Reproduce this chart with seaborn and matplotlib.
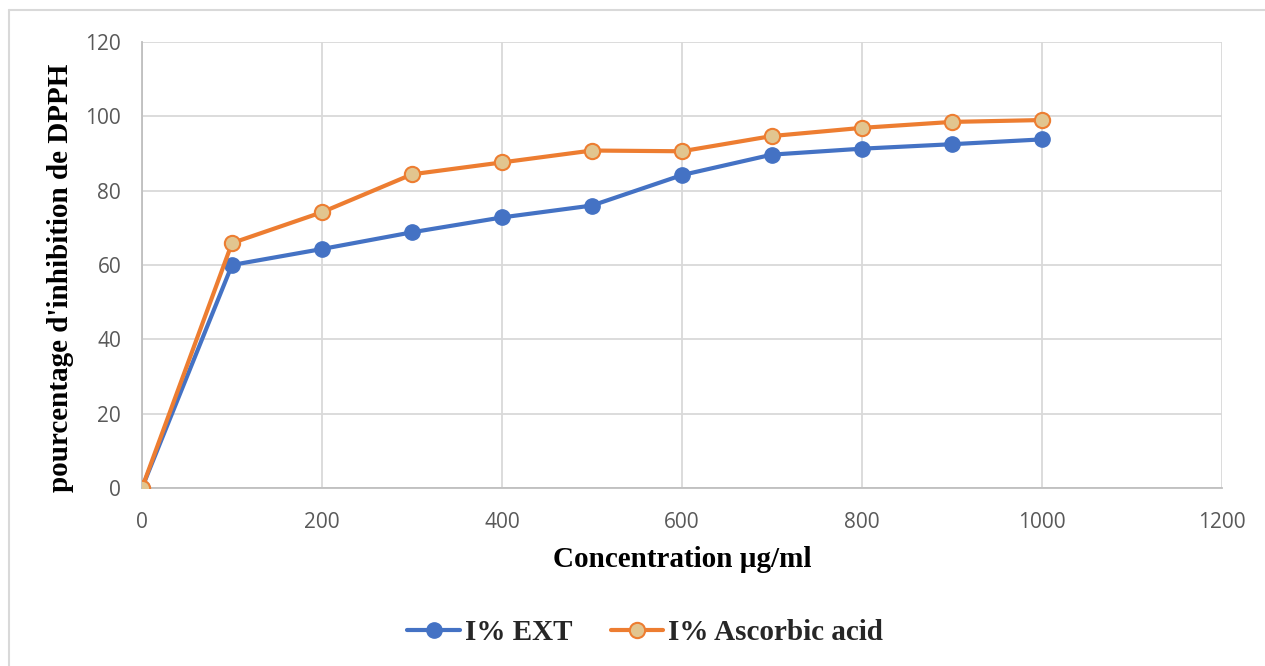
import matplotlib
matplotlib.use("Agg")
import matplotlib.pyplot as plt
import seaborn as sns
import pandas as pd
from matplotlib.lines import Line2D

concentration = [0, 100, 200, 300, 400, 500, 600, 700, 800, 900, 1000]
ext_values = [0, 60.0, 64.3, 68.8, 72.8, 76.0, 84.2, 89.7, 91.3, 92.5, 93.8]
ascorbic_values = [0, 65.9, 74.2, 84.4, 87.6, 90.8, 90.6, 94.7, 96.9, 98.5, 99.0]
series_names = ["I% EXT", "I% Ascorbic acid"]
x_ticks = [0, 200, 400, 600, 800, 1000, 1200]
y_ticks = [0, 20, 40, 60, 80, 100, 120]

df = pd.DataFrame({
    "conc": concentration * 2,
    "val": ext_values + ascorbic_values,
    "series": [series_names[0]] * len(concentration) + [series_names[1]] * len(concentration),
})

sns.set_theme(style="white")
fig = plt.figure(figsize=(12.65, 6.66), dpi=100)
ax = fig.add_axes([142/1265, 1-488/666, (1222-142)/1265, (488-42)/666])

colors = {"I% EXT": "#4472C4", "I% Ascorbic acid": "#ED7D31"}
for name in series_names:
    sub = df[df["series"] == name]
    if name == series_names[0]:
        sns.lineplot(data=sub, x="conc", y="val", ax=ax, color=colors[name], lw=3,
                     marker="o", markersize=11, markerfacecolor=colors[name],
                     markeredgecolor=colors[name], markeredgewidth=1, label=name, zorder=3)
    else:
        sns.lineplot(data=sub, x="conc", y="val", ax=ax, color=colors[name], lw=3,
                     marker="o", markersize=11, markerfacecolor="#E2C58F",
                     markeredgecolor=colors[name], markeredgewidth=1.5, label=name, zorder=4)

ax.set_xlim(0, 1200)
ax.set_ylim(0, 120)
ax.set_xticks(x_ticks)
ax.set_yticks(y_ticks)
ax.grid(True, color="#D9D9D9", lw=1.3)
for s in ["top", "right"]:
    ax.spines[s].set_visible(False)
ax.spines["left"].set_color("#BFBFBF")
ax.spines["bottom"].set_color("#BFBFBF")
ax.spines["left"].set_linewidth(1.3)
ax.spines["bottom"].set_linewidth(1.3)
ax.tick_params(axis="both", labelsize=15, colors="#595959", length=0)
ax.tick_params(axis="x", pad=17)
ax.tick_params(axis="y", pad=15)
for lab in ax.get_xticklabels() + ax.get_yticklabels():
    lab.set_fontfamily("Open Sans")

ax.set_xlabel("Concentration µg/ml", fontfamily="Liberation Serif", fontweight="bold",
              fontsize=21, color="black")
ax.set_ylabel("pourcentage d'inhibition de DPPH", fontfamily="Liberation Serif",
              fontweight="bold", fontsize=21, color="black")
ax.xaxis.set_label_coords(0.5, -(546 - 488) / 446)
ax.yaxis.set_label_coords(-(142 - 74) / 1080, (488 - 278) / 446)

leg = ax.legend(loc="center", bbox_to_anchor=(0.466, -(633 - 488) / 446), ncol=2, frameon=False,
                prop={"family": "Liberation Serif", "weight": "bold", "size": 21},
                handlelength=1.8, columnspacing=1.3, handletextpad=0.18)

border_kw = dict(color="#D9D9D9", lw=1.5, transform=fig.transFigure)
fig.lines.append(Line2D([9/1265, 9/1265], [0, 1-10/666], **border_kw))
fig.lines.append(Line2D([9/1265, 1], [1-10/666, 1-10/666], **border_kw))

fig.savefig("out.png", dpi=100)
